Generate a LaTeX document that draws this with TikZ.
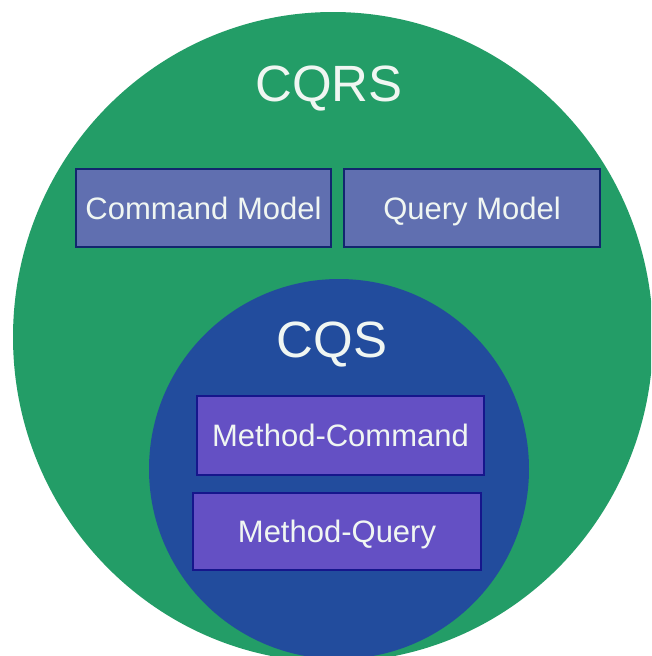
\documentclass[tikz,border=0pt]{standalone}
\usepackage{fontspec}
\setmainfont{Liberation Sans}
\usetikzlibrary{shapes.geometric}
\definecolor{cqrsgreen}{RGB}{35,157,103}
\definecolor{cqsblue}{RGB}{34,76,157}
\definecolor{modelfill}{RGB}{96,111,176}
\definecolor{modeldraw}{RGB}{18,38,110}
\definecolor{methodfill}{RGB}{100,80,196}
\definecolor{methoddraw}{RGB}{22,22,140}
\definecolor{txt}{RGB}{240,246,242}
\tikzset{
  bigtitle/.style={text=txt, font=\fontsize{51}{51}\selectfont, anchor=base, inner sep=0pt},
  modelbox/.style={draw=modeldraw, fill=modelfill, line width=1.8pt, text=txt,
    font=\fontsize{31}{31}\selectfont, text height=22pt, text depth=0pt, inner sep=0pt},
  methodbox/.style={draw=methoddraw, fill=methodfill, line width=1.8pt, text=txt,
    font=\fontsize{31}{31}\selectfont, text height=22pt, text depth=0pt, inner sep=0pt},
}
\begin{document}
\begin{tikzpicture}[x=1pt,y=-1pt]
\useasboundingbox (0,0) rectangle (651,656);
\clip (0,0) rectangle (651,656);
\fill[white] (0,0) rectangle (651,656);
\node[ellipse, fill=cqrsgreen, minimum width=640pt, minimum height=650pt, inner sep=0pt] (cqrs) at (333,337) {};
\node[circle, fill=cqsblue, minimum size=380pt, inner sep=0pt] (cqs) at (339,469) {};
\node[bigtitle] (cqrslabel) at (329,101) {CQRS};
\node[bigtitle] (cqslabel) at (332,357) {CQS};
\node[modelbox, minimum width=255pt, minimum height=78pt] (cmd) at (203.5,208) {Command Model};
\node[modelbox, minimum width=256pt, minimum height=78pt] (qry) at (472,208) {Query Model};
\node[methodbox, minimum width=287pt, minimum height=79pt] (mcmd) at (340.5,435.5) {Method-Command};
\node[methodbox, minimum width=288pt, minimum height=77pt] (mqry) at (337,531.5) {Method-Query};
\end{tikzpicture}
\end{document}
